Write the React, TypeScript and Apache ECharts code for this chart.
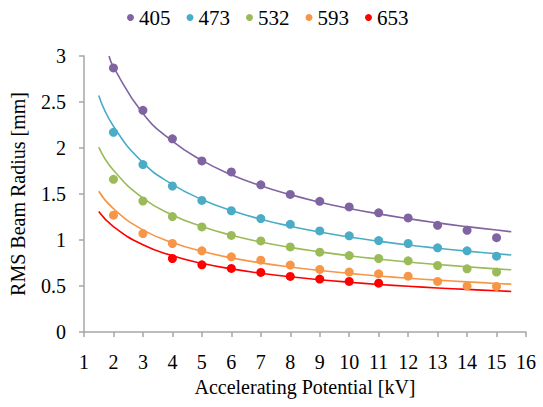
import React, { useEffect, useRef } from "react";
import * as echarts from "echarts";

const names = ["405", "473", "532", "593", "653"];
const colors = ["#8064A2", "#4BACC6", "#9BBB59", "#F79646", "#FF0000"];

const ptX = [2, 3, 4, 5, 6, 7, 8, 9, 10, 11, 12, 13, 14, 15];
const pts405 = [2.87, 2.41, 2.1, 1.86, 1.74, 1.6, 1.495, 1.42, 1.36, 1.295, 1.24, 1.16, 1.105, 1.025];
const pts473 = [2.17, 1.82, 1.587, 1.43, 1.318, 1.233, 1.17, 1.099, 1.045, 0.994, 0.962, 0.915, 0.882, 0.824];
const pts532 = [1.66, 1.424, 1.255, 1.142, 1.05, 0.99, 0.925, 0.868, 0.831, 0.799, 0.774, 0.723, 0.687, 0.651];
const pts593 = [1.27, 1.07, 0.962, 0.882, 0.817, 0.781, 0.727, 0.68, 0.651, 0.632, 0.607, 0.55, 0.499, 0.495];
const ptX653 = [4, 5, 6, 7, 8, 9, 10, 11];
const pts653 = [0.799, 0.73, 0.691, 0.647, 0.604, 0.575, 0.55, 0.531];

const fitX = [1.5, 2, 3, 4, 5, 6, 7, 8, 9, 10, 11, 12, 13, 14, 15, 15.5];
const fitX405 = [1.85, 2, 3, 4, 5, 6, 7, 8, 9, 10, 11, 12, 13, 14, 15, 15.5];
const fit405 = [3.0, 2.88, 2.376, 2.074, 1.865, 1.71, 1.59, 1.493, 1.411, 1.343, 1.284, 1.232, 1.186, 1.145, 1.108, 1.09];
const fit473 = [2.57, 2.237, 1.841, 1.604, 1.441, 1.32, 1.226, 1.15, 1.086, 1.033, 0.987, 0.946, 0.911, 0.879, 0.851, 0.837];
const fit532 = [2.01, 1.758, 1.455, 1.272, 1.146, 1.052, 0.979, 0.92, 0.871, 0.829, 0.793, 0.761, 0.734, 0.709, 0.686, 0.676];
const fit593 = [1.53, 1.34, 1.11, 0.973, 0.877, 0.806, 0.751, 0.706, 0.669, 0.637, 0.609, 0.585, 0.564, 0.545, 0.528, 0.52];
const fit653 = [1.31, 1.145, 0.948, 0.829, 0.747, 0.686, 0.639, 0.6, 0.568, 0.541, 0.517, 0.497, 0.479, 0.463, 0.448, 0.441];

const FONT = "'Liberation Serif', 'Times New Roman', serif";

function pair(xs: number[], ys: number[]) {
  return xs.map((x, i) => [x, ys[i]]);
}

export default function App() {
  const ref = useRef<HTMLDivElement>(null);
  useEffect(() => {
    if (!ref.current) return;
    const chart = echarts.init(ref.current, null, { renderer: "svg" });
    const pointSets = [
      pair(ptX, pts405),
      pair(ptX, pts473),
      pair(ptX, pts532),
      pair(ptX, pts593),
      pair(ptX653, pts653),
    ];
    const fitSets = [
      pair(fitX405, fit405),
      pair(fitX, fit473),
      pair(fitX, fit532),
      pair(fitX, fit593),
      pair(fitX, fit653),
    ];
    const series: any[] = [];
    names.forEach((n, i) => {
      series.push({
        name: n + " fit",
        type: "line",
        data: fitSets[i],
        smooth: true,
        showSymbol: false,
        symbol: "none",
        lineStyle: { color: colors[i], width: 1.6 },
        itemStyle: { color: colors[i] },
        z: 2,
      });
    });
    names.forEach((n, i) => {
      series.push({
        name: n,
        type: "scatter",
        data: pointSets[i],
        symbol: "circle",
        symbolSize: 9,
        itemStyle: { color: colors[i], opacity: 1 },
        z: 3,
      });
    });
    chart.setOption({
      animation: false,
      backgroundColor: "#ffffff",
      legend: {
        data: names.map((n) => ({ name: n, icon: "circle" })),
        top: 2,
        left: 122,
        itemWidth: 7,
        itemHeight: 7,
        itemGap: 16,
        textStyle: { fontFamily: FONT, fontSize: 21, color: "#000" },
      },
      grid: { left: 84, right: 17, top: 56, bottom: 75, containLabel: false },
      xAxis: {
        type: "value",
        min: 1,
        max: 16,
        interval: 1,
        name: "Accelerating Potential [kV]",
        nameLocation: "middle",
        nameGap: 41,
        nameTextStyle: { fontFamily: FONT, fontSize: 20, color: "#000" },
        axisLine: { show: true, lineStyle: { color: "#a6a6a6", width: 1.5 } },
        axisTick: { show: true, length: 5, lineStyle: { color: "#a6a6a6", width: 1.5 } },
        axisLabel: { fontFamily: FONT, fontSize: 20, color: "#000", margin: 20 },
        splitLine: { show: false },
      },
      yAxis: {
        type: "value",
        min: 0,
        max: 3,
        interval: 0.5,
        name: "RMS Beam Radius [mm]",
        nameLocation: "middle",
        nameGap: 56,
        nameRotate: 90,
        nameTextStyle: { fontFamily: FONT, fontSize: 20, color: "#000" },
        axisLine: { show: true, lineStyle: { color: "#a6a6a6", width: 1.5 } },
        axisTick: { show: true, length: 5, lineStyle: { color: "#a6a6a6", width: 1.5 } },
        axisLabel: { fontFamily: FONT, fontSize: 20, color: "#000", margin: 18 },
        splitLine: { show: false },
      },
      series,
    });
    return () => chart.dispose();
  }, []);
  return (
    <div
      ref={ref}
      style={{ position: "fixed", left: 0, top: 0, width: 543, height: 407, background: "#fff" }}
    />
  );
}
